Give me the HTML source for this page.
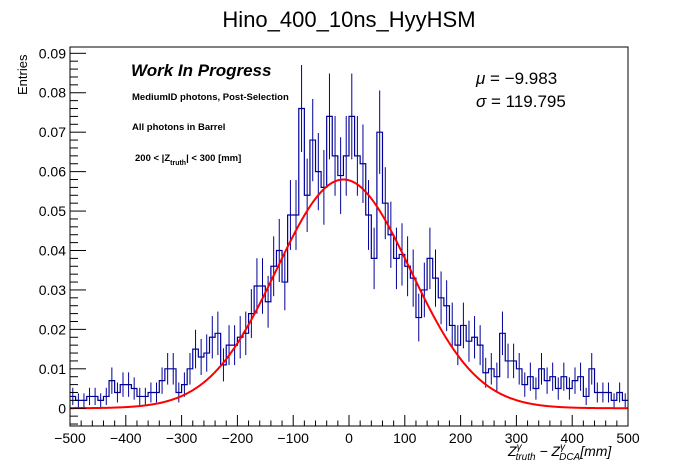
<!DOCTYPE html>
<html><head><meta charset="utf-8"><style>
body{margin:0;background:#fff;}
svg{display:block;font-family:"Liberation Sans",Arial,sans-serif;}
</style></head><body>
<svg id="c" width="698" height="474">
<rect x="0" y="0" width="698" height="474" fill="#fff"/>
<text x="349" y="27" font-size="22" text-anchor="middle">Hino_400_10ns_HyyHSM</text>
<g id="plot"></g>
<rect x="70" y="47" width="558" height="379" fill="none" stroke="#000" stroke-width="1"/>
<g id="axes"></g>
<text transform="translate(27,95) rotate(-90)" font-size="13">Entries</text>
<text x="508" y="456" font-size="14" font-style="italic">Z<tspan font-size="10" dy="-6">γ</tspan><tspan font-size="10" dx="-6" dy="10">truth</tspan><tspan dy="-4"> − Z</tspan><tspan font-size="10" dy="-6">γ</tspan><tspan font-size="10" dx="-6" dy="10">DCA</tspan><tspan dy="-4">[mm]</tspan></text>
<text x="131" y="76" font-size="17" font-weight="bold" font-style="italic">Work In Progress</text>
<text x="132" y="100" font-size="9.5" font-weight="bold">MediumID photons, Post-Selection</text>
<text x="132" y="130" font-size="9.5" font-weight="bold">All photons in Barrel</text>
<text x="135" y="161" font-size="9.5" font-weight="bold">200 &lt; |Z<tspan font-size="7" dy="4">truth</tspan><tspan dy="-4">| &lt; 300 [mm]</tspan></text>
<text x="476" y="84" font-size="17"><tspan font-style="italic">μ</tspan> = −9.983</text>
<text x="476" y="107" font-size="17"><tspan font-style="italic">σ</tspan> = 119.795</text>
</svg>
<script>
const binEdgesMin = -500, binWidth = 10;
const values = [
0.003,0.002,0.002,0.003,0.003,0.002,0.003,0.007,0.004,0.006,
0.006,0.005,0.003,0.003,0.004,0.004,0.007,0.010,0.010,0.004,
0.006,0.010,0.015,0.013,0.014,0.018,0.019,0.011,0.016,0.016,
0.018,0.019,0.024,0.031,0.031,0.027,0.036,0.040,0.032,0.049,
0.049,0.076,0.054,0.068,0.060,0.056,0.074,0.064,0.059,0.064,
0.074,0.064,0.062,0.049,0.038,0.070,0.052,0.044,0.038,0.039,
0.036,0.033,0.023,0.030,0.038,0.033,0.028,0.026,0.021,0.016,
0.021,0.017,0.018,0.016,0.009,0.010,0.008,0.019,0.012,0.012,
0.010,0.006,0.008,0.005,0.010,0.007,0.008,0.005,0.008,0.005,
0.007,0.008,0.003,0.010,0.004,0.004,0.004,0.002,0.004,0.002];
const fitMu = -9.983, fitSigma = 119.795, fitAmp = 0.058;
const xTicks = [-500,-400,-300,-200,-100,0,100,200,300,400,500];
const yTicks = [0,0.01,0.02,0.03,0.04,0.05,0.06,0.07,0.08,0.09];
const yTickLabels = ["0","0.01","0.02","0.03","0.04","0.05","0.06","0.07","0.08","0.09"];

const NS="http://www.w3.org/2000/svg";
const X0=70,X1=628,Y0=426,Y1=47, xmin=-500,xmax=500,ymin=-0.0045,ymax=0.0916;
const sx=v=>X0+(v-xmin)/(xmax-xmin)*(X1-X0);
const sy=v=>Y0-(v-ymin)/(ymax-ymin)*(Y0-Y1);
const plot=document.getElementById('plot'), axes=document.getElementById('axes');
function mk(tag,attrs,parent){const e=document.createElementNS(NS,tag);for(const k in attrs)e.setAttribute(k,attrs[k]);parent.appendChild(e);return e;}

let d="";
values.forEach((v,i)=>{
  const xa=sx(binEdgesMin+i*binWidth), xb=sx(binEdgesMin+(i+1)*binWidth), y=sy(v);
  d+=(i===0?"M":"L")+xa+","+y+"L"+xb+","+y;
  const err=Math.sqrt(v*0.0016), xc=(xa+xb)/2;
  const eb=mk('line',{x1:xc,x2:xc,y1:sy(v+err),y2:sy(Math.max(v-err,ymin)),stroke:'#000099','stroke-width':1},plot);
  
  
});
const h=mk('path',{d:d,fill:'none',stroke:'#000099','stroke-width':1.2},plot);



let fd="";
for(let x=xmin;x<=xmax;x+=2){const y=fitAmp*Math.exp(-0.5*((x-fitMu)/fitSigma)**2);fd+=(x===xmin?"M":"L")+sx(x)+","+sy(y);}
const f=mk('path',{d:fd,fill:'none',stroke:'#ff0000','stroke-width':2},plot);



for(let x=xmin;x<=xmax;x+=20){
  const major=(x%100===0), len=major?11:5.5;
  const t=mk('line',{x1:sx(x),x2:sx(x),y1:Y0,y2:Y0-len,stroke:'#000'},axes);
  
  
}
xTicks.forEach(x=>{
  const t=mk('text',{x:sx(x),y:443,'font-size':14,'text-anchor':'middle'},axes);
  t.textContent=x<0?"−"+Math.abs(x):String(x);
  
  
});
for(let k=-2;k<=45;k++){
  const v=k*0.002; if(v<ymin||v>ymax)continue;
  const major=(k%5===0), len=major?16:8;
  const t=mk('line',{x1:X0,x2:X0+len,y1:sy(v),y2:sy(v),stroke:'#000'},axes);
  
  
}
yTicks.forEach((v,i)=>{
  const t=mk('text',{x:66,y:sy(v)+5,'font-size':14,'text-anchor':'end'},axes);
  t.textContent=yTickLabels[i];
  
  
});
</script>
</body></html>
